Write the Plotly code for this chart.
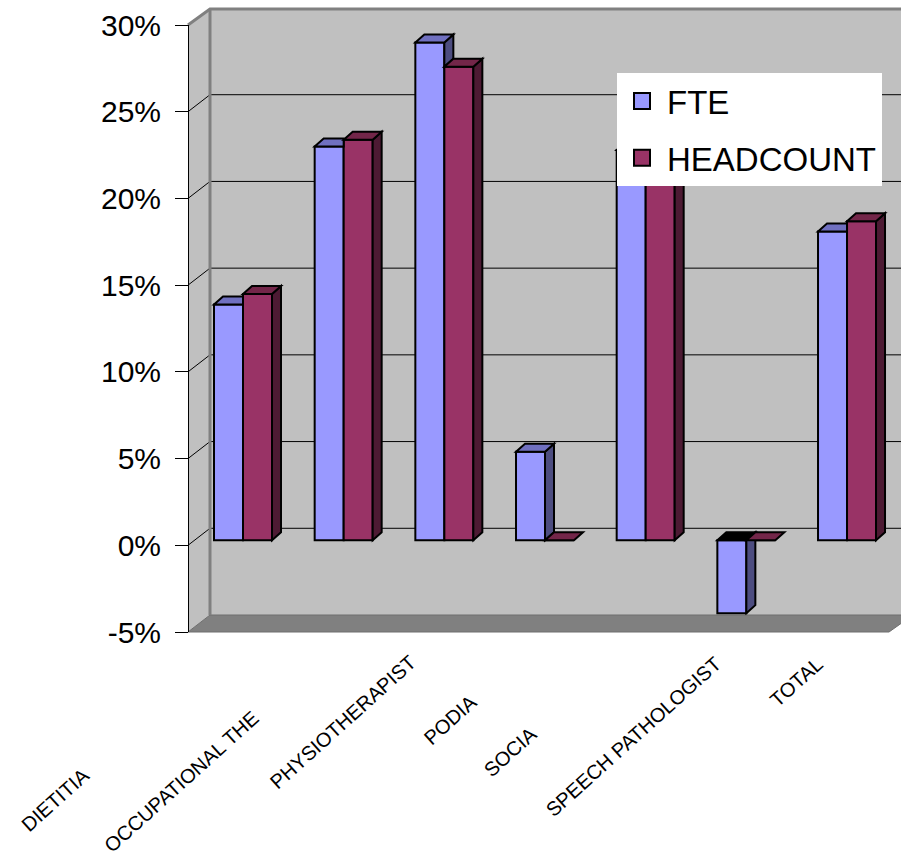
import plotly.graph_objects as go

# ---------------- data ----------------
CATEGORIES = ["DIETITIAN", "OCCUPATIONAL THERAPIST", "PHYSIOTHERAPIST", "PODIATRIST",
              "SOCIAL WORKER", "SPEECH PATHOLOGIST", "TOTAL"]
CATEGORY_LABELS = ["DIETITIA", "OCCUPATIONAL THE", "PHYSIOTHERAPIST", "PODIA",
                   "SOCIA", "SPEECH PATHOLOGIST", "TOTAL"]
FTE = [0.136, 0.227, 0.287, 0.051, 0.225, -0.042, 0.178]
HEADCOUNT = [0.142, 0.231, 0.273, 0.0, 0.235, 0.0, 0.184]
Y_TICKS = [-0.05, 0.0, 0.05, 0.10, 0.15, 0.20, 0.25, 0.30]
Y_TICK_TEXT = ["-5%", "0%", "5%", "10%", "15%", "20%", "25%", "30%"]
SERIES = ["FTE", "HEADCOUNT"]

# ---------------- layout constants ----------------
W, H = 901, 861
ML, MR, MT, MB = 188, 0, 25, 229
PW, PH = W - ML - MR, H - MT - MB
Y0, Y1 = -0.05, 0.30
UPP = PH / (Y1 - Y0)            # pixels per unit on the value axis
BACK_DX, BACK_DY = 22, 17       # depth of the walls (px)
BAR_LIFT = 5                    # bars sit a little behind the front plane (px)
WALL_LEFT = ML + BACK_DX
CAT_PX = 100.67                 # px between categories
FIRST_PX = 243
BAR_PX = 29
DEPTH_PX_X, DEPTH_PX_Y = 9, 8

FTE_COLORS = dict(front="#9999FF", side="#4D4D80", top="#7070C0")
HC_COLORS = dict(front="#993366", side="#4D1A33", top="#732649")
FONT = "Liberation Sans, Arial, sans-serif"
LABEL_CENTERS = [(55, 800), (181, 782), (343, 722), (450, 720), (510, 752), (633, 737), (796, 682)]


def xp(px):
    return (px - ML) / PW


def yp(py):
    return (MT + PH - py) / PH


def vpaper(v):
    """value -> paper y on the front plane"""
    return (v - Y0) / (Y1 - Y0)


xr = [-(FIRST_PX - WALL_LEFT) / CAT_PX, (W - FIRST_PX) / CAT_PX]
BW = BAR_PX / CAT_PX
DX = DEPTH_PX_X / CAT_PX
DY = DEPTH_PX_Y / UPP
back_shift_paper = BACK_DY / PH
y3shift = BAR_LIFT / UPP

xs = list(range(len(CATEGORIES)))

fig = go.Figure()
# legend entries (on the front value axis)
for i, (nm, col) in enumerate([(SERIES[0], FTE_COLORS["front"]), (SERIES[1], HC_COLORS["front"])]):
    fig.add_trace(go.Scatter(x=[None], y=[None], mode="markers", name=nm, legendgroup=f"g{i}",
                             marker=dict(symbol="square", size=16, color=col,
                                         line=dict(color="black", width=2))))
fig.add_trace(go.Bar(x=xs, y=FTE, width=BW, offset=-BW, name=SERIES[0],
                     marker=dict(color=FTE_COLORS["front"], line=dict(color="black", width=2)),
                     customdata=CATEGORIES, hovertemplate="%{customdata}: %{y:.1%}<extra>FTE</extra>",
                     yaxis="y3", showlegend=False))
fig.add_trace(go.Bar(x=xs, y=HEADCOUNT, width=BW, offset=0, name=SERIES[1],
                     marker=dict(color=HC_COLORS["front"], line=dict(color="black", width=2)),
                     customdata=CATEGORIES, hovertemplate="%{customdata}: %{y:.1%}<extra>HEADCOUNT</extra>",
                     yaxis="y3", showlegend=False))

shapes = []
top_back = MT - BACK_DY + 1
bot_back = MT + PH - BACK_DY
# walls (decoration)
shapes.append(dict(type="rect", xref="paper", yref="paper", x0=xp(WALL_LEFT), x1=xp(W + 10),
                   y0=yp(bot_back), y1=yp(top_back), fillcolor="#C0C0C0",
                   line=dict(width=0), layer="below"))
shapes.append(dict(type="path", xref="paper", yref="paper", layer="below",
                   path=f"M{xp(ML)},{yp(MT)} L{xp(WALL_LEFT)},{yp(top_back)} "
                        f"L{xp(WALL_LEFT)},{yp(bot_back)} L{xp(ML)},{yp(MT + PH)} Z",
                   fillcolor="#C0C0C0", line=dict(width=0)))
# grid lines: back wall and side-wall diagonals
for v in Y_TICKS[1:-1]:
    yf = vpaper(v)
    yb = yf + back_shift_paper
    shapes.append(dict(type="path", xref="paper", yref="paper", layer="below",
                       path=f"M0,{yf} L{xp(WALL_LEFT)},{yb} L{xp(W + 5)},{yb}",
                       line=dict(color="black", width=1)))
shapes.append(dict(type="path", xref="paper", yref="paper", layer="below",
                   path=f"M{xp(ML)},{yp(MT + PH)} L{xp(WALL_LEFT)},{yp(bot_back)} "
                        f"L{xp(W + 12)},{yp(bot_back)} L{xp(889)},{yp(MT + PH)} Z",
                   fillcolor="#808080", line=dict(color="#6E6E6E", width=1)))
shapes.append(dict(type="path", xref="paper", yref="paper", layer="below",
                   path=f"M{xp(ML)},{yp(MT)} L{xp(WALL_LEFT)},{yp(top_back)} L{xp(W + 5)},{yp(top_back)}",
                   line=dict(color="#808080", width=3)))
shapes.append(dict(type="line", xref="paper", yref="paper", layer="below",
                   x0=xp(WALL_LEFT), x1=xp(WALL_LEFT), y0=yp(top_back), y1=yp(bot_back),
                   line=dict(color="#808080", width=3)))


def face(points, color):
    path = "M" + " L".join(f"{x},{y}" for x, y in points) + " Z"
    return dict(type="path", xref="x", yref="y3", path=path, fillcolor=color,
                line=dict(color="black", width=2), layer="above")


for i in xs:
    f, h = FTE[i], HEADCOUNT[i]
    fl, e, hr = i - BW, i, i + BW
    # FTE side (only the part not hidden by the HEADCOUNT bar)
    if f > 0 and f > max(h, 0):
        lo = max(h, 0)
        shapes.append(face([(e, lo), (e + DX, lo + DY), (e + DX, f + DY), (e, f)], FTE_COLORS["side"]))
    elif f < 0 and f < min(h, 0):
        hi = min(h, 0)
        shapes.append(face([(e, f), (e + DX, f + DY), (e + DX, hi + DY), (e, hi)], FTE_COLORS["side"]))
    # FTE top
    ft = max(f, 0)
    topcol = FTE_COLORS["top"] if f >= 0 else "#000000"
    if h > ft:
        shapes.append(face([(fl, ft), (fl + DX, ft + DY), (e, ft + DY), (e, ft)], topcol))
    else:
        shapes.append(face([(fl, ft), (fl + DX, ft + DY), (e + DX, ft + DY), (e, ft)], topcol))
    # HEADCOUNT side and top
    ht = max(h, 0)
    if h != 0:
        shapes.append(face([(hr, min(h, 0)), (hr + DX, min(h, 0) + DY), (hr + DX, ht + DY), (hr, ht)],
                           HC_COLORS["side"]))
    shapes.append(face([(e, ht), (e + DX, ht + DY), (hr + DX, ht + DY), (hr, ht)], HC_COLORS["top"]))

annotations = []
for lab, (cx, cy) in zip(CATEGORY_LABELS, LABEL_CENTERS):
    annotations.append(dict(text=lab, xref="paper", yref="paper", x=xp(cx), y=yp(cy),
                            xanchor="center", yanchor="middle", textangle=-42, showarrow=False,
                            font=dict(family=FONT, size=20, color="black")))

fig.update_layout(
    width=W, height=H,
    margin=dict(l=ML, r=MR, t=MT, b=MB, pad=0),
    paper_bgcolor="white", plot_bgcolor="rgba(0,0,0,0)",
    barmode="overlay",
    font=dict(family=FONT, color="black"),
    shapes=shapes, annotations=annotations,
    xaxis=dict(domain=[xp(WALL_LEFT), 1], range=xr, showgrid=False, zeroline=False,
               showticklabels=False, ticks="", showline=False, anchor="y", fixedrange=True),
    yaxis=dict(range=[Y0, Y1], tickvals=Y_TICKS, ticktext=Y_TICK_TEXT, ticks="outside", ticklen=13,
               tickcolor="black", showline=True, linecolor="black", linewidth=1, showgrid=False,
               zeroline=False, anchor="free", position=0, ticklabelstandoff=8,
               tickfont=dict(size=30, family=FONT, color="black")),
    yaxis3=dict(range=[Y0 - y3shift, Y1 - y3shift], overlaying="y", visible=False, anchor="x"),
    legend=dict(x=xp(617), y=yp(73), xanchor="left", yanchor="top", bgcolor="white",
                borderwidth=0, font=dict(size=33, family=FONT, color="black"),
                tracegroupgap=11, itemwidth=40),
)

fig.write_html("out.html")
